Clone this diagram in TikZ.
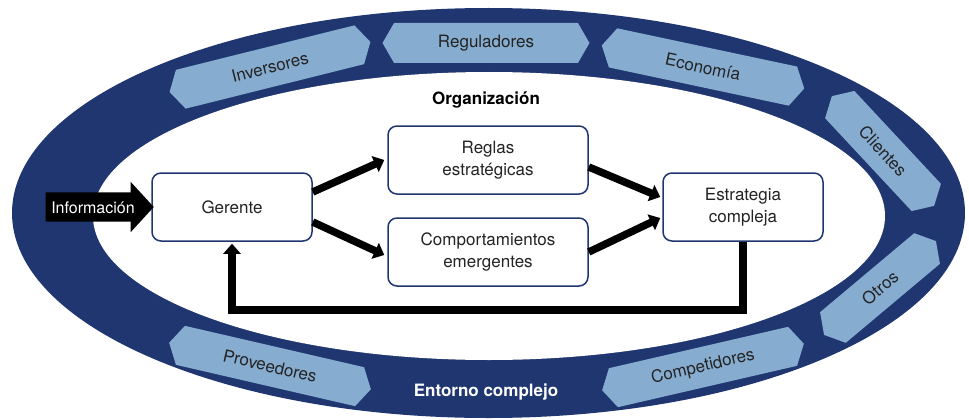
\documentclass[tikz,border=0pt]{standalone}
\usepackage{fontspec}
\setmainfont{TeX Gyre Heros}
\usetikzlibrary{shapes.symbols,shapes.arrows,arrows.meta}
\definecolor{navy}{RGB}{31,54,112}
\definecolor{sky}{RGB}{134,172,208}
\definecolor{ink}{RGB}{35,35,35}

\begin{document}
\begin{tikzpicture}[x=1pt,y=-1pt,
  envbox/.style={signal, signal to=west and east, signal from=nowhere, signal pointer angle=120,
    fill=sky, text=ink, minimum width=207pt, minimum height=40pt, inner sep=0pt,
    font=\fontsize{17}{20}\selectfont},
  orgbox/.style={draw=navy, line width=1.5pt, fill=white, rounded corners=9pt, text=ink,
    align=center, minimum height=68pt, font=\fontsize{17}{21.5}\selectfont},
  flow/.style={line width=7.5pt, -{Triangle[length=10pt,width=17pt]}}]
\useasboundingbox (0,0) rectangle (969,420);
\fill [navy] (488.5,213) ellipse [x radius=476.5, y radius=205];
\fill [white] (489,216) ellipse [x radius=396, y radius=144];
\node [envbox] (regu) at (486,43) {Reguladores};
\node [envbox, rotate=14] (inv) at (270,67) {Inversores};
\node [envbox, rotate=-12] (eco) at (703,67) {Economía};
\node [envbox, rotate=-47, minimum width=150pt] (cli) at (883,151) {Clientes};
\node [envbox, rotate=40, minimum width=146pt] (otr) at (880,288) {Otros};
\node [envbox, rotate=13] (comp) at (703,367) {Competidores};
\node [envbox, rotate=-13] (prov) at (270,366) {Proveedores};
\node [font=\bfseries\fontsize{17}{20}\selectfont] (org) at (486,100) {Organización};
\node [white, font=\bfseries\fontsize{17}{20}\selectfont] (ent) at (486,392) {Entorno complejo};
\node [orgbox, minimum width=160pt] (ger) at (232,207) {Gerente};
\node [orgbox, minimum width=200pt] (reglas) at (488,160) {Reglas\\estratégicas};
\node [orgbox, minimum width=200pt] (emer) at (488,252) {Comportamientos\\emergentes};
\node [orgbox, minimum width=160pt] (est) at (743,207) {Estrategia\\compleja};
\node [single arrow, fill=black, text=white, minimum height=108pt, single arrow head extend=10.5pt,
  single arrow tip angle=95, inner xsep=0pt, inner ysep=8.5pt, text height=12pt, text depth=0pt,
  font=\fontsize{16}{19}\selectfont] (info) at (93,207) {Información};
\draw [flow] ([yshift=15pt]ger.east) -- ([xshift=-3pt]reglas.west);
\draw [flow] ([yshift=-15pt]ger.east) -- ([xshift=-3pt,yshift=-3pt]emer.west);
\draw [flow] ([yshift=-7pt]reglas.east) -- ([xshift=-2pt,yshift=10pt]est.west);
\draw [flow] (emer.east) -- ([xshift=-2pt,yshift=-11pt]est.west);
\draw [flow] (est.south) -- ++(0,68) -| ([yshift=-2pt]ger.south);
\end{tikzpicture}
\end{document}
